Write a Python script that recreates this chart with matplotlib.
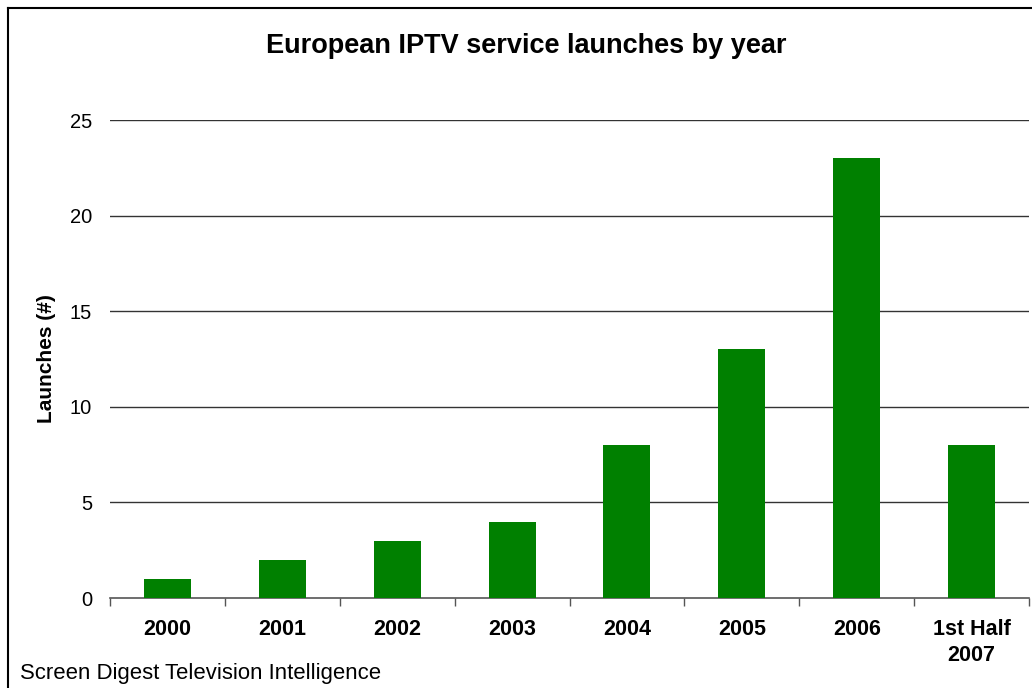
import numpy as np
import matplotlib
matplotlib.use('Agg')
import matplotlib.pyplot as plt
from matplotlib.lines import Line2D

plt.rcParams['font.family'] = ['Liberation Sans', 'DejaVu Sans']

# chart data
categories = ['2000', '2001', '2002', '2003', '2004', '2005', '2006', '1st Half\n2007']
launches = [1, 2, 3, 4, 8, 13, 23, 8]
yticks = [0, 5, 10, 15, 20, 25]

fig = plt.figure(figsize=(10.32, 6.88), dpi=100)
ax = fig.add_axes([110 / 1032, 1 - 598 / 688, 919 / 1032, 478 / 688])

x = np.arange(len(categories))
ax.bar(x, launches, width=0.41, color='#008000', zorder=3)

ax.set_xlim(-0.5, len(categories) - 0.5)
ax.set_ylim(0, 25)
ax.set_yticks(yticks)
ax.set_yticklabels([str(v) for v in yticks], fontsize=14.5)
ax.tick_params(axis='y', length=0, pad=13)

ax.set_xticks(x)
ax.set_xticklabels(categories, fontsize=15.5, fontweight='bold', linespacing=1.35)
ax.tick_params(axis='x', which='major', length=0, pad=15)
ax.set_xticks(np.arange(-0.5, len(categories), 1), minor=True)
ax.tick_params(axis='x', which='minor', length=6, width=1, color='#555555', direction='out')

# horizontal gridlines
for v in yticks[1:]:
    ax.axhline(v, color='#333333', linewidth=1, zorder=1)

for side in ['left', 'right', 'top']:
    ax.spines[side].set_visible(False)
ax.spines['bottom'].set_color('#555555')
ax.spines['bottom'].set_linewidth(1.2)

ax.set_ylabel('Launches (#)', fontsize=15, fontweight='bold', labelpad=10)

fig.text(0.51, 1 - 46 / 688, 'European IPTV service launches by year',
         ha='center', va='center', fontsize=19.5, fontweight='bold')
fig.text(20 / 1032, 1 - 673 / 688, 'Screen Digest Television Intelligence',
         ha='left', va='center', fontsize=15.9)

# outer frame (left and top edges visible)
fig.add_artist(Line2D([7.5 / 1032, 7.5 / 1032], [0, 1 - 7.5 / 688], color='black', linewidth=1.5))
fig.add_artist(Line2D([7.5 / 1032, 1], [1 - 7.5 / 688, 1 - 7.5 / 688], color='black', linewidth=1.5))

fig.savefig('out.png', dpi=100)
